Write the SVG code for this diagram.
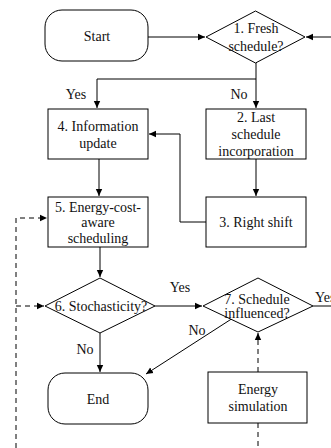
<svg xmlns="http://www.w3.org/2000/svg" width="331" height="448" viewBox="0 0 331 448">
<style>
.s{fill:#fff;stroke:#000;stroke-width:1}
.t{font-family:'Liberation Serif','DejaVu Serif',serif;font-size:14px;fill:#111;text-anchor:middle}
.l{fill:none;stroke:#000;stroke-width:1}
.d{fill:none;stroke:#000;stroke-width:1;stroke-dasharray:5,4}
</style>
<defs>
<marker id="a" markerUnits="userSpaceOnUse" markerWidth="8" markerHeight="8" refX="7" refY="4" orient="auto">
<path d="M0,0.8 L7,4 L0,7.2 Z" fill="#000"/>
</marker>
</defs>
<rect width="331" height="448" fill="#fff"/>
<g id="connectors">
<path class="l" d="M148,37 H205" marker-end="url(#a)"/>
<path class="l" d="M331,37 H306" marker-end="url(#a)"/>
<path class="l" d="M256,63 V79 H97 V108" marker-end="url(#a)"/>
<path class="l" d="M256,79 V108" marker-end="url(#a)"/>
<path class="l" d="M206,222 H180 V134 H149" marker-end="url(#a)"/>
<path class="l" d="M256,159 V196" marker-end="url(#a)"/>
<path class="l" d="M99,159 V196" marker-end="url(#a)"/>
<path class="l" d="M100,247 V277" marker-end="url(#a)"/>
<path class="l" d="M155,306 H202" marker-end="url(#a)"/>
<path class="l" d="M100,333 V372" marker-end="url(#a)"/>
<path class="l" d="M313,306 H331"/>
<path class="l" d="M233,318 L146,374" marker-end="url(#a)"/>
<path class="d" d="M258,372 V333" marker-end="url(#a)"/>
<path class="d" d="M258,423 V448"/>
<path class="d" d="M16,448 V218 H47" marker-end="url(#a)"/>
<path class="d" d="M16,306 H44" marker-end="url(#a)"/>
</g>
<g id="start">
<rect class="s" x="45" y="10" width="103" height="51" rx="17"/>
<text class="t" x="97" y="41" font-family="Liberation Serif">Start</text>
</g>
<g id="n1">
<polygon class="s" points="206,37 255.5,11 305,37 255.5,63"/>
<text class="t" x="256" y="33">1. Fresh</text>
<text class="t" x="256" y="51">schedule?</text>
</g>
<g id="n2">
<rect class="s" x="206" y="109" width="100" height="50"/>
<text class="t" x="256" y="122">2. Last</text>
<text class="t" x="256" y="139">schedule</text>
<text class="t" x="256" y="156">incorporation</text>
</g>
<g id="n3">
<rect class="s" x="206" y="197" width="100" height="50"/>
<text class="t" x="256" y="227">3. Right shift</text>
</g>
<g id="n4">
<rect class="s" x="48" y="109" width="100" height="50"/>
<text class="t" x="98" y="131">4. Information</text>
<text class="t" x="98" y="148">update</text>
</g>
<g id="n5">
<rect class="s" x="48" y="197" width="100" height="50"/>
<text class="t" x="98" y="212">5. Energy-cost-</text>
<text class="t" x="98" y="227">aware</text>
<text class="t" x="98" y="243">scheduling</text>
</g>
<g id="n6">
<polygon class="s" points="45,306 100,278 155,306 100,333"/>
<text class="t" x="101" y="311">6. Stochasticity?</text>
</g>
<g id="n7">
<polygon class="s" points="203,306 258,278 313,306 258,332"/>
<text class="t" x="257" y="304">7. Schedule</text>
<text class="t" x="257" y="318">influenced?</text>
</g>
<g id="end">
<rect class="s" x="48" y="373" width="100" height="51" rx="17"/>
<text class="t" x="98" y="404">End</text>
</g>
<g id="sim">
<rect class="s" x="208" y="372" width="99" height="51"/>
<text class="t" x="258" y="394">Energy</text>
<text class="t" x="258" y="411">simulation</text>
</g>
<g id="labels">
<text class="t" x="76" y="99">Yes</text>
<text class="t" x="239" y="99">No</text>
<text class="t" x="180" y="292">Yes</text>
<text class="t" x="315" y="302" style="text-anchor:start">Yes</text>
<text class="t" x="197" y="335">No</text>
<text class="t" x="85" y="354">No</text>
</g>
</svg>
